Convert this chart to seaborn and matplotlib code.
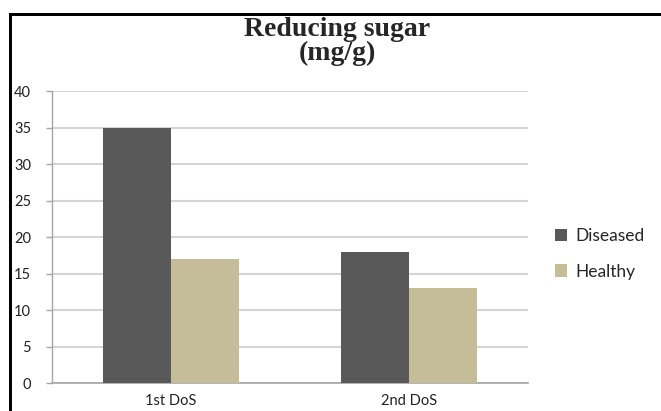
import matplotlib
matplotlib.use("Agg")
import matplotlib.pyplot as plt
import seaborn as sns
import pandas as pd
from matplotlib.lines import Line2D
from matplotlib.patches import Patch

categories = ["1st DoS", "2nd DoS"]
series_names = ["Diseased", "Healthy"]
diseased = [35, 18]
healthy = [17, 13]
colors = ["#595959", "#C4BD97"]
yticks = [0, 5, 10, 15, 20, 25, 30, 35, 40]

df = pd.DataFrame({
    "dose": categories * 2,
    "status": [series_names[0]] * len(categories) + [series_names[1]] * len(categories),
    "value": diseased + healthy,
})

sns.set_style("white")
plt.rcParams["font.family"] = ["Lato", "DejaVu Sans"]

W, H = 661, 411
fig = plt.figure(figsize=(W / 100, H / 100), dpi=100)
ax = fig.add_axes([52 / W, 1 - 383.3 / H, (528 - 52) / W, (383.3 - 91.3) / H])

sns.barplot(data=df, x="dose", y="value", hue="status", palette=colors,
            saturation=1, width=0.57, gap=0, ax=ax, legend=False,
            linewidth=0, edgecolor="none", zorder=3)

ax.set_ylim(0, 40)
ax.set_yticks(yticks)
ax.set_xlim(-0.5, 1.5)
ax.set_xlabel("")
ax.set_ylabel("")
ax.yaxis.grid(True, color="#d4d4d4", linewidth=1.5, zorder=0)
ax.set_axisbelow(True)
for s in ["top", "right"]:
    ax.spines[s].set_visible(False)
ax.spines["left"].set_color("#a6a6a6")
ax.spines["left"].set_linewidth(1.0)
ax.spines["bottom"].set_color("#a6a6a6")
ax.spines["bottom"].set_linewidth(1.2)
ax.tick_params(axis="y", left=True, length=4, width=1, color="#a6a6a6",
               pad=11, labelsize=10.5, labelcolor="#222222")
ax.tick_params(axis="x", bottom=False, length=0, pad=8, labelsize=10.5,
               labelcolor="#222222")

fig.text(337 / W, 1 - 36 / H, "Reducing sugar", ha="center", va="baseline",
         fontsize=20, fontweight="bold", family=["Liberation Serif", "DejaVu Serif"])
fig.text(337 / W, 1 - 60 / H, "(mg/g)", ha="center", va="baseline",
         fontsize=20, fontweight="bold", family=["Liberation Serif", "DejaVu Serif"])

handles = [Patch(facecolor=c, edgecolor="none") for c in colors]
fig.legend(handles, series_names, loc="center left",
           bbox_to_anchor=(555 / W, 1 - 254 / H), frameon=False,
           fontsize=12.5, handlelength=0.7, handleheight=0.7,
           handletextpad=0.5, labelspacing=1.1, borderaxespad=0,
           borderpad=0)

# outer frame (partially visible)
lw = 3 * 0.72
fig.add_artist(Line2D([9.5 / W, 9.5 / W], [-0.1, 1 - 14 / H], transform=fig.transFigure,
                      color="black", linewidth=lw, solid_capstyle="projecting"))
fig.add_artist(Line2D([9.5 / W, 1.1], [1 - 14 / H, 1 - 14 / H], transform=fig.transFigure,
                      color="black", linewidth=lw, solid_capstyle="projecting"))

fig.savefig("out.png", dpi=100)
